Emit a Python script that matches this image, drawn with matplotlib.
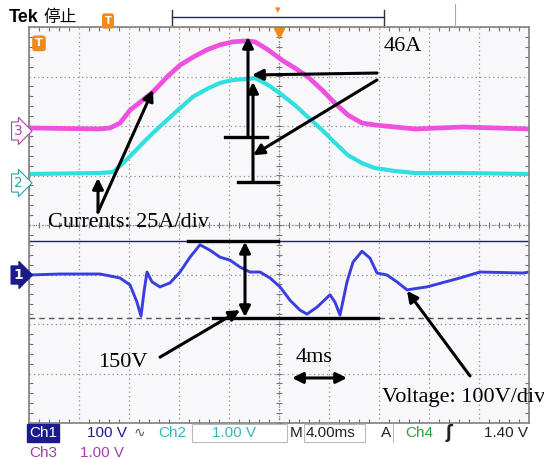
import numpy as np
import matplotlib.pyplot as plt

# oscilloscope traces: time in ms (4 ms/div), level in divisions
t_ch3 = [-20, -14.32, -13.52, -12.72, -11.92, -11.12, -10.08, -8.96, -7.92, -6.88, -5.76, -4.72, -3.68, -2.56,
         -1.92, -0.88, 0.24, 1.28, 2.32, 3.44, 4.48, 5.52, 6.64, 7.68, 9.28, 10.88, 14.72, 20]
v_ch3 = [1.96, 1.94, 1.96, 2.06, 2.32, 2.48, 2.69, 2.99, 3.23, 3.39, 3.54, 3.64, 3.70, 3.72,
         3.70, 3.54, 3.33, 3.17, 2.99, 2.73, 2.46, 2.22, 2.06, 2.02, 1.98, 1.94, 1.98, 1.94]

t_ch2 = [-20, -14.32, -13.28, -12.48, -11.68, -10.88, -10.08, -8.96, -7.92, -6.88, -5.76, -4.72, -3.68, -2.56,
         -1.92, -0.88, 0.24, 1.28, 2.32, 3.44, 4.48, 5.52, 6.64, 7.68, 9.28, 10.88, 14.72, 20]
v_ch2 = [1.03, 1.05, 1.07, 1.25, 1.45, 1.66, 1.86, 2.12, 2.36, 2.59, 2.75, 2.87, 2.93, 2.95,
         2.97, 2.83, 2.63, 2.42, 2.18, 1.92, 1.66, 1.41, 1.25, 1.15, 1.09, 1.05, 1.05, 1.03]

t_ch1 = [-20, -17.52, -14.32, -12.72, -11.92, -11.36, -11.04, -10.80, -10.56, -10.16, -9.52, -8.72, -7.92,
         -7.12, -6.32, -5.52, -4.72, -3.92, -3.12, -2.32, -1.52, -0.72, 0.08, 0.88, 1.68, 2.24, 3.04, 4.08,
         4.48, 4.88, 5.44, 5.92, 6.64, 7.28, 7.84, 8.64, 9.44, 10.24, 11.84, 14.48, 16.08, 19.52, 20]
v_ch1 = [-1.01, -0.99, -0.99, -1.07, -1.21, -1.56, -1.84, -1.35, -0.95, -1.15, -1.25, -1.17, -0.95,
         -0.65, -0.40, -0.51, -0.65, -0.71, -0.85, -0.95, -0.95, -1.07, -1.25, -1.52, -1.72, -1.80, -1.66, -1.41,
         -1.56, -1.82, -1.15, -0.75, -0.53, -0.67, -0.97, -1.01, -1.15, -1.31, -1.25, -1.07, -0.95, -0.97, -0.95]

cursor_top = -0.32
cursor_bot = -1.88

MAG = '#ee50e0'
CYA = '#30e0e0'
BLU = '#3a3ee0'
NAVY = '#1a1a8c'
ORG = '#f08a1c'

W, H = 544, 459
fig = plt.figure(figsize=(W / 100, H / 100), dpi=100)
fig.patch.set_facecolor('white')


def fx(x):
    return x / W


def fy(y):
    return 1 - y / H


ax = fig.add_axes([fx(29), fy(423), 500 / W, 396 / H])
ax.set_facecolor('#f8f8fb')
ax.set_xlim(-20, 20)
ax.set_ylim(-4, 4)
ax.set_xticks(np.arange(-20, 21, 4))
ax.set_yticks(np.arange(-4, 5, 1))
ax.set_xticks(np.arange(-20, 20.1, 0.8), minor=True)
ax.set_yticks(np.arange(-4, 4.01, 0.2), minor=True)
ax.tick_params(which='both', direction='in', top=True, right=True,
               labelbottom=False, labelleft=False, color='#707070')
ax.tick_params(which='major', length=0)
ax.tick_params(which='minor', length=3, width=0.8)
ax.grid(True, which='major', linestyle=(0, (1, 2.5)), color='#8f8f8f', lw=0.9)
for s in ax.spines.values():
    s.set_color('#808080')
    s.set_linewidth(1.2)

# center cross with fine ticks
ax.axhline(0, color='#8a8a8a', lw=0.9, linestyle=(0, (1, 1.5)))
ax.axvline(0, color='#8a8a8a', lw=0.9, linestyle=(0, (1, 1.5)))
ax.plot(np.arange(-20, 20.1, 0.8), np.zeros(51), '|', color='#777777', ms=5, mew=0.8)
ax.plot(np.zeros(41), np.arange(-4, 4.01, 0.2), '_', color='#777777', ms=5, mew=0.8)

# cursors
ax.axhline(cursor_top, color=NAVY, lw=1.0)
ax.axhline(cursor_bot, color='#505060', lw=1.0, linestyle=(0, (4, 3)))

# traces
ax.plot(t_ch3, v_ch3, color=MAG, lw=3.4, solid_joinstyle='round')
ax.plot(t_ch2, v_ch2, color=CYA, lw=3.0, solid_joinstyle='round')
ax.plot(t_ch1, v_ch1, color=BLU, lw=2.1, solid_joinstyle='round')

# annotations
serif = 'Liberation Serif'
arw = dict(arrowstyle='-|>', color='k', lw=2.2, mutation_scale=16, shrinkA=0, shrinkB=0)
darw = dict(arrowstyle='<|-|>', color='k', lw=2.2, mutation_scale=16, shrinkA=0, shrinkB=0)

# current amplitudes
ax.plot([-4.32, -0.96], [1.78, 1.78], color='k', lw=2.4)
ax.plot([-3.28, -0.08], [0.87, 0.87], color='k', lw=2.4)
ax.annotate('', xy=(-2.48, 3.80), xytext=(-2.48, 1.78), arrowprops=arw)
ax.annotate('', xy=(-2.08, 2.89), xytext=(-2.08, 0.87), arrowprops=arw)
ax.text(9.9, 3.60, '46A', family=serif, fontsize=16, ha='center', va='center')
ax.annotate('', xy=(-2.16, 3.03), xytext=(7.84, 3.07), arrowprops=arw)
ax.annotate('', xy=(-2.08, 1.41), xytext=(7.84, 2.93), arrowprops=arw)

ax.text(-12.0, 0.06, 'Currents: 25A/div', family=serif, fontsize=16, ha='center', va='center')
ax.annotate('', xy=(-10.08, 2.73), xytext=(-14.48, 0.26), arrowprops=arw)
ax.annotate('', xy=(-14.48, 0.95), xytext=(-14.48, 0.26), arrowprops=arw)

# voltage amplitude
ax.plot([-7.28, -0.08], [cursor_top, cursor_top], color='k', lw=2.4)
ax.plot([-5.28, 7.92], [cursor_bot, cursor_bot], color='k', lw=2.4)
ax.annotate('', xy=(-2.72, -0.34), xytext=(-2.72, -1.86), arrowprops=darw)
ax.text(-12.5, -2.77, '150V', family=serif, fontsize=16, ha='center', va='center')
ax.annotate('', xy=(-3.12, -1.72), xytext=(-9.52, -2.67), arrowprops=arw)

ax.text(2.8, -2.67, '4ms', family=serif, fontsize=16, ha='center', va='center')
ax.annotate('', xy=(1.04, -3.09), xytext=(5.44, -3.09), arrowprops=darw)

ax.text(8.24, -3.49, 'Voltage: 100V/div', family=serif, fontsize=16, ha='left', va='center',
        clip_on=False)
ax.annotate('', xy=(10.24, -1.33), xytext=(15.28, -3.05), arrowprops=arw)

# trigger markers on the screen
ax.text(-19.2, 3.67, 'T', color='white', fontsize=8, fontweight='bold', ha='center', va='center',
        bbox=dict(boxstyle='round,pad=0.2', fc=ORG, ec=ORG))
ax.plot([0], [3.88], 'v', color=ORG, ms=7, clip_on=False)

# channel markers
fig.text(fx(18), fy(131), '3', color='#b040b0', fontsize=10, ha='center', va='center',
         bbox=dict(boxstyle='rarrow,pad=0.15', fc='white', ec='#b040b0', lw=0.8))
fig.text(fx(18), fy(183), '2', color='#30a0a0', fontsize=10, ha='center', va='center',
         bbox=dict(boxstyle='rarrow,pad=0.15', fc='white', ec='#30a0a0', lw=0.8))
fig.text(fx(18), fy(275), '1', color='white', fontsize=10, fontweight='bold', ha='center', va='center',
         bbox=dict(boxstyle='rarrow,pad=0.15', fc=NAVY, ec=NAVY, lw=0.8))

# top bar
fig.text(fx(9), fy(17), 'Tek', fontsize=13, fontweight='bold', family='Liberation Sans',
         ha='left', va='center')
fig.text(fx(43), fy(17), '停止', fontsize=12, family=['Noto Sans CJK SC', 'DejaVu Sans'],
         ha='left', va='center')
fig.text(fx(108), fy(21), 'T', color='white', fontsize=7, fontweight='bold', ha='center', va='center',
         bbox=dict(boxstyle='round,pad=0.2', fc=ORG, ec=ORG))
fig.add_artist(plt.Line2D([fx(172), fx(384)], [fy(17), fy(17)], color=NAVY, lw=1.0))
fig.add_artist(plt.Line2D([fx(172), fx(172)], [fy(10), fy(25)], color='#333333', lw=1.0))
fig.add_artist(plt.Line2D([fx(384), fx(384)], [fy(10), fy(25)], color='#333333', lw=1.0))
fig.add_artist(plt.Line2D([fx(455), fx(455)], [fy(4), fy(26)], color='#aaaaaa', lw=0.8))
fig.text(fx(278), fy(10), '▾', color=ORG, fontsize=8, ha='center', va='center')

# bottom status bar
sans = 'Liberation Sans'
row1, row2 = 433, 453
fig.text(fx(29), fy(row1), 'Ch1', color='white', fontsize=11, family=sans, ha='left', va='center',
         bbox=dict(boxstyle='square,pad=0.1', fc=NAVY, ec=NAVY))
fig.text(fx(87), fy(row1), '100 V', color=NAVY, fontsize=11, family=sans, ha='left', va='center')
fig.text(fx(134), fy(row1), '∿', color='#555577', fontsize=10, ha='left', va='center')
fig.text(fx(158), fy(row1), 'Ch2', color='#30b8c0', fontsize=11, family=sans, ha='left', va='center')
fig.add_artist(plt.Rectangle((fx(192), fy(442)), 95 / W, 18 / H, fill=False, ec='#bbbbbb', lw=0.8))
fig.text(fx(212), fy(row1), '1.00 V', color='#30b8c0', fontsize=11, family=sans, ha='left', va='center')
fig.text(fx(290), fy(row1), 'M', color='#222222', fontsize=11, family=sans, ha='left', va='center')
fig.add_artist(plt.Rectangle((fx(304), fy(442)), 61 / W, 18 / H, fill=False, ec='#bbbbbb', lw=0.8))
fig.text(fx(306), fy(row1), '4.00ms', color='#222222', fontsize=11, family=sans, ha='left', va='center')
fig.text(fx(381), fy(row1), 'A', color='#222222', fontsize=11, family=sans, ha='left', va='center')
fig.add_artist(plt.Line2D([fx(393), fx(393)], [fy(424), fy(442)], color='#bbbbbb', lw=0.8))
fig.text(fx(405), fy(row1), 'Ch4', color='#30a040', fontsize=11, family=sans, ha='left', va='center')
fig.text(fx(446), fy(row1), 'ʃ', color='#222222', fontsize=12, fontweight='bold', ha='left', va='center')
fig.text(fx(528), fy(row1), '1.40 V', color='#222222', fontsize=11, family=sans, ha='right', va='center')
fig.text(fx(29), fy(row2), 'Ch3', color='#a040a0', fontsize=11, family=sans, ha='left', va='center')
fig.text(fx(80), fy(row2), '1.00 V', color='#a040a0', fontsize=11, family=sans, ha='left', va='center')

fig.savefig('out.png', dpi=100)
